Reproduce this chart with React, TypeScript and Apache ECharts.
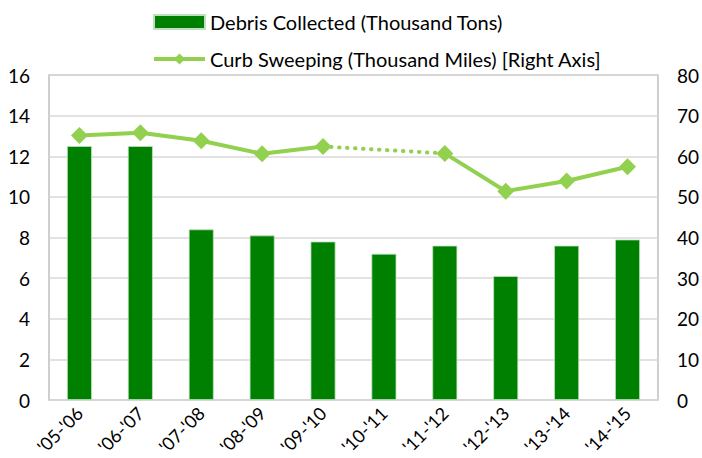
import React, { useEffect, useRef } from "react";
import * as echarts from "echarts";

const categories = ["'05-'06", "'06-'07", "'07-'08", "'08-'09", "'09-'10", "'10-'11", "'11-'12", "'12-'13", "'13-'14", "'14-'15"];
const debris = [12.5, 12.5, 8.4, 8.1, 7.8, 7.2, 7.6, 6.1, 7.6, 7.9];
const sweeping: (number | null)[] = [65.1, 65.8, 63.8, 60.6, 62.4, null, 60.7, 51.4, 53.9, 57.4];
const sweepingGap: (number | null)[] = [null, null, null, null, 62.4, null, 60.7, null, null, null];
const leftTicks = { min: 0, max: 16, interval: 2 };
const rightTicks = { min: 0, max: 80, interval: 10 };

const FONT = "Lato";

export default function App() {
  const ref = useRef<HTMLDivElement>(null);
  useEffect(() => {
    if (!ref.current) return;
    const chart = echarts.init(ref.current, null, { renderer: "svg" });
    chart.setOption({
      animation: false,
      textStyle: { fontFamily: FONT },
      legend: {
        orient: "vertical",
        left: 147,
        top: 7,
        itemGap: 17,
        itemWidth: 51,
        itemHeight: 14,
        textStyle: { fontFamily: FONT, fontSize: 20, color: "#000" },
        data: [
          { name: "Debris Collected (Thousand Tons)", icon: "rect" },
          {
            name: "Curb Sweeping (Thousand Miles) [Right Axis]",
            lineStyle: { width: 4 },
          },
        ],
      },
      grid: {
        left: 49,
        right: 42,
        top: 75,
        bottom: 58,
        show: true,
        borderColor: "#BFBFBF",
        borderWidth: 1.5,
      },
      xAxis: {
        type: "category",
        data: categories,
        axisLine: { show: false },
        axisTick: { show: false },
        axisLabel: {
          rotate: 45,
          fontFamily: FONT,
          fontSize: 18,
          color: "#000",
          margin: 10,
          interval: 0,
        },
      },
      yAxis: [
        {
          type: "value",
          ...leftTicks,
          axisLine: { show: false },
          axisTick: { show: false },
          splitLine: { lineStyle: { color: "#D9D9D9", width: 1.5 } },
          axisLabel: { fontFamily: FONT, fontSize: 19, color: "#000", margin: 19 },
        },
        {
          type: "value",
          ...rightTicks,
          position: "right",
          axisLine: { show: false },
          axisTick: { show: false },
          splitLine: { show: false },
          axisLabel: { fontFamily: FONT, fontSize: 19, color: "#000", margin: 19 },
        },
      ],
      series: [
        {
          name: "Debris Collected (Thousand Tons)",
          type: "bar",
          data: debris,
          barWidth: "41%",
          itemStyle: { color: "#008000", borderColor: "#bfe0bf", borderWidth: 0.8 },
        },
        {
          name: "Curb Sweeping (Thousand Miles) [Right Axis]",
          type: "line",
          yAxisIndex: 1,
          data: sweeping,
          connectNulls: false,
          symbol: "diamond",
          symbolSize: 17,
          lineStyle: { color: "#92D050", width: 4 },
          itemStyle: { color: "#92D050" },
          z: 5,
        },
        {
          name: "gap",
          type: "line",
          yAxisIndex: 1,
          data: sweepingGap,
          connectNulls: true,
          symbol: "none",
          lineStyle: { color: "#92D050", width: 4, type: [0.5, 7.5], cap: "round" },
          z: 4,
        },
      ],
    });
    return () => chart.dispose();
  }, []);
  return <div ref={ref} style={{ width: 702, height: 458, position: "absolute", left: 0, top: 0 }} />;
}
